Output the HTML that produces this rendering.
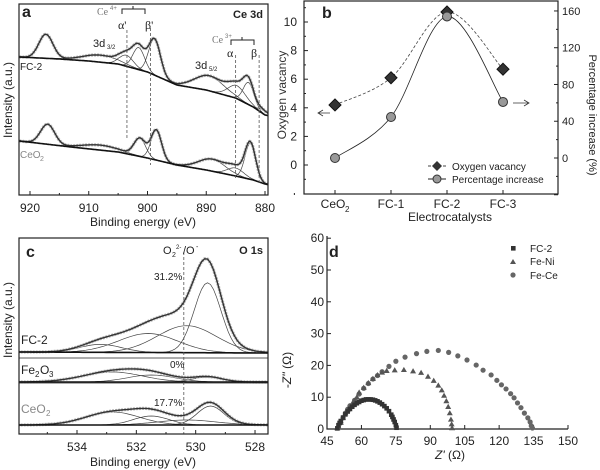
<!DOCTYPE html>
<html><head><meta charset="utf-8">
<style>
html,body{margin:0;padding:0;background:#fff;}
svg{display:block;font-family:"Liberation Sans",Arial,sans-serif;}
</style></head>
<body>
<svg id="fig" width="600" height="470" viewBox="0 0 600 470" xmlns="http://www.w3.org/2000/svg"></svg>
<script>
// ---------- Panel a data ----------
const aTicks = [920, 910, 900, 890, 880];
const aFCBaseE = [921.8, 915, 910, 905, 900, 895, 890, 885, 882, 880, 877.5];
const aFCBaseY = [57, 59, 61, 64, 72, 85, 90, 98, 107, 115, 118];
const aFCPeakC = [917.3, 908, 903.6, 901.5, 898.8, 889.5, 884.8, 882.8, 880.3];
const aFCPeakH = [24, 7, 11, 22, 36, 15, 13, 22, 4];
const aFCPeakW = [1.2, 3, 1.2, 1.0, 1.0, 2.5, 1.5, 0.9, 0.8];
const aCeBaseE = [921.8, 913, 905, 900, 895, 890, 885, 882, 880, 877.5];
const aCeBaseY = [141, 147, 152, 158, 165, 170, 176, 180, 184, 186];
const aCePeakC = [917, 908, 901.3, 898.5, 889, 885, 882.5];
const aCePeakH = [20, 5, 18, 30, 12, 8, 36];
const aCePeakW = [1.2, 3, 1.0, 0.9, 2.3, 1.4, 0.9];
// ---------- Panel b data ----------
const bCats = ["CeO2", "FC-1", "FC-2", "FC-3"];
const bVacancy = [4.2, 6.1, 10.7, 6.7];
const bPercent = [0, 44.6, 154, 61];
const bLeftTicks = [0, 2, 4, 6, 8, 10];
const bRightTicks = [0, 40, 80, 120, 160];
// ---------- Panel c data ----------
const cTicks = [534, 532, 530, 528];
const cFCBase = [352, 353];
const cFCPeakC = [533.2, 531.6, 530.3, 529.6];
const cFCPeakH = [8, 19, 27, 70];
const cFCPeakW = [0.7, 1.0, 1.0, 0.45];
const cFeBase = [382, 382];
const cFePeakC = [532.8, 531.5, 529.6];
const cFePeakH = [10, 7, 5];
const cFePeakW = [1.0, 0.8, 0.5];
const cCeBase = [425, 425];
const cCePeakC = [532.8, 531.5, 530.3, 529.5];
const cCePeakH = [13, 9, 5, 19];
const cCePeakW = [0.9, 0.6, 1.0, 0.45];
// ---------- Panel d data ----------
const dXTicks = [45, 60, 75, 90, 105, 120, 135, 150];
const dYTicks = [0, 10, 20, 30, 40, 50, 60];
const dFC2X = [49.5,50,50.5,51,52,53,54,55,56,57,58,59,60,61,62,63,64,65,66,67,68,69,70,71,72,73,73.5,74,74.5,75,75.3];
const dFC2Y = [0.2,1.2,1.9,2.5,3.6,4.6,5.5,6.3,7.0,7.6,8.1,8.5,8.9,9.1,9.3,9.3,9.3,9.2,9.0,8.7,8.3,7.8,7.2,6.5,5.6,4.5,3.8,3.0,2.2,1.2,0.4];
const dNiX = [49.5,51,52,53,54,55,56,57,58,59,61,63,65,67,69,71,74.5,78.5,82.5,86,89,91.5,93.5,95,96,97,97.8,98.5,99,99.3,99.5];
const dNiY = [0.3,2,3.5,5,6,7,8,9,10,11.5,13,14.5,15.8,17,17.8,18.3,18.5,18.6,18.2,17.7,16.5,15.2,13.7,12.2,10.5,8.8,7,5,3,1.5,0.3];
const dCeX = [50,51,52,53,54,55,57,59,61,63,65,67,69,72,75,79,84,88.5,93.5,98,102,106,110,113,116.5,119,121,123,125,126.5,128,129.5,131,132.5,133.5,134,134.5];
const dCeY = [0.5,2,3.5,5,6.2,7.3,9,11,12.8,14.3,15.7,16.8,18,19.7,21.3,22.6,23.7,24.4,24.7,24.1,23,21.7,20.1,18.5,17,15.3,13.9,12.6,11.1,9.8,8.2,6.7,5,3.5,2.2,1,0.3];

const NS = "http://www.w3.org/2000/svg";
const svg = document.getElementById("fig");
function mk(tag, attrs, parent) {
  const e = document.createElementNS(NS, tag);
  for (const k in attrs) e.setAttribute(k, attrs[k]);
  (parent || svg).appendChild(e);
  return e;
}
function txt(x, y, s, size, extra, parent) {
  const t = mk("text", Object.assign({x: x, y: y, "font-size": size, fill: "#222"}, extra || {}), parent);
  t.textContent = s;
  return t;
}
function interp(xs, ys, x) {
  for (let i = 0; i < xs.length - 1; i++) {
    const a = xs[i], b = xs[i + 1];
    if ((x <= a && x >= b) || (x >= a && x <= b)) {
      return ys[i] + (ys[i + 1] - ys[i]) * (x - a) / (b - a);
    }
  }
  return ys[ys.length - 1];
}
function gauss(e, c, h, w) { return h * Math.exp(-0.5 * ((e - c) / w) ** 2); }
function path(pts) { return pts.map((p, i) => (i ? "L" : "M") + p[0].toFixed(1) + "," + p[1].toFixed(1)).join(""); }
function spline(pts) {
  let d = "M" + pts[0][0] + "," + pts[0][1];
  for (let i = 0; i < pts.length - 1; i++) {
    const p0 = pts[Math.max(0, i - 1)], p1 = pts[i], p2 = pts[i + 1], p3 = pts[Math.min(pts.length - 1, i + 2)];
    const c1 = [p1[0] + (p2[0] - p0[0]) / 6, p1[1] + (p2[1] - p0[1]) / 6];
    const c2 = [p2[0] - (p3[0] - p1[0]) / 6, p2[1] - (p3[1] - p1[1]) / 6];
    d += "C" + c1[0].toFixed(1) + "," + c1[1].toFixed(1) + " " + c2[0].toFixed(1) + "," + c2[1].toFixed(1) + " " + p2[0].toFixed(1) + "," + p2[1].toFixed(1);
  }
  return d;
}

function spectrum(g, xOf, eMin, eMax, baseFn, C, H, W, name) {
  const step = 0.1;
  const env = [], base = [];
  for (let e = eMax; e >= eMin - 1e-9; e -= step) {
    const b = baseFn(e);
    let s = 0;
    for (let i = 0; i < C.length; i++) s += gauss(e, C[i], H[i], W[i]);
    env.push([xOf(e), b - s]);
    base.push([xOf(e), b]);
  }
  for (let i = 0; i < C.length; i++) {
    const comp = [];
    for (let e = eMax; e >= eMin - 1e-9; e -= step) {
      comp.push([xOf(e), baseFn(e) - gauss(e, C[i], H[i], W[i])]);
    }
    const p = mk("path", {d: path(comp), fill: "none", stroke: "#444", "stroke-width": 0.7}, g);
    
    
  }
  const pe = mk("path", {d: path(env), fill: "none", stroke: "#bbb", "stroke-width": 3.2, "stroke-dasharray": "2 1"}, g);
  
  
  const pf = mk("path", {d: path(env), fill: "none", stroke: "#333", "stroke-width": 1.4}, g);
  
  
  const pb = mk("path", {d: path(base), fill: "none", stroke: "#111", "stroke-width": 1.6}, g);
  
  
}

// ================= Panel a =================
(function () {
  const g = mk("g", {});
  
  
  const L = 19, R = 268, T = 4, B = 195;
  const xOf = e => 30 + (920 - e) * 5.875;
  const cp = mk("clipPath", {id: "clipA"}, g); mk("rect", {x: L, y: T, width: R - L, height: B - T}, cp);
  const inner = mk("g", {"clip-path": "url(#clipA)"}, g);
  spectrum(inner, xOf, 877.5, 921.8, e => interp(aFCBaseE, aFCBaseY, e), aFCPeakC, aFCPeakH, aFCPeakW, "fc2-ce3d");
  spectrum(inner, xOf, 877.5, 921.8, e => interp(aCeBaseE, aCeBaseY, e), aCePeakC, aCePeakH, aCePeakW, "ceo2-ce3d");
  [[903.5, 30, 140], [899.5, 28, 165], [885, 55, 180], [881, 55, 185]].forEach(v => {
    const l = mk("line", {x1: xOf(v[0]), x2: xOf(v[0]), y1: v[1], y2: v[2], stroke: "#555", "stroke-width": 0.8, "stroke-dasharray": "3 2"}, g);
    
    
  });
  const box = mk("rect", {x: L, y: T, width: R - L, height: B - T, fill: "none", stroke: "#222", "stroke-width": 1.2}, g);
   
  aTicks.forEach(t => {
    mk("line", {x1: xOf(t), x2: xOf(t), y1: B, y2: B - 4, stroke: "#222"}, g);
    mk("line", {x1: xOf(t - 5), x2: xOf(t - 5), y1: B, y2: B - 2, stroke: "#222"}, g);
    const tl = txt(xOf(t), 212, String(t), 12, {"text-anchor": "middle"}, g);
     
  });
  const xt = txt(143, 226, "Binding energy (eV)", 12, {"text-anchor": "middle"}, g);
   
  const yt = txt(0, 0, "Intensity (a.u.)", 12, {"text-anchor": "middle", transform: "translate(12,100) rotate(-90)"}, g);
   
  const lab = txt(22, 17, "a", 16, {"font-weight": "bold"}, g);  
  const ti = txt(263, 18, "Ce 3d", 11, {"font-weight": "bold", "text-anchor": "end"}, g);  
  txt(20, 70, "FC-2", 10, {}, g);
  txt(20, 158, "CeO", 10, {fill: "#888"}, g); txt(40, 161, "2", 7, {fill: "#888"}, g);
  txt(93, 47, "3d", 11, {}, g); txt(107, 49, "3/2", 6, {}, g);
  txt(195, 69, "3d", 11, {}, g); txt(209, 71, "5/2", 6, {}, g);
  txt(97, 15, "Ce", 10, {fill: "#777", "font-family": "Liberation Serif"}, g); txt(110, 10, "4+", 6, {fill: "#777"}, g);
  mk("path", {d: "M122,14V9H145V14M133,9V6", fill: "none", stroke: "#222"}, g);
  txt(118, 29, "α'", 12, {"font-family": "Liberation Serif"}, g);
  txt(145, 29, "β'", 12, {"font-family": "Liberation Serif"}, g);
  txt(212, 43, "Ce", 10, {fill: "#777", "font-family": "Liberation Serif"}, g); txt(225, 38, "3+", 6, {fill: "#777"}, g);
  mk("path", {d: "M231,45V40H254V45M242,40V37", fill: "none", stroke: "#222"}, g);
  txt(227, 57, "α", 12, {"font-family": "Liberation Serif"}, g);
  txt(251, 57, "β", 12, {"font-family": "Liberation Serif"}, g);
})();

// ================= Panel b =================
(function () {
  const g = mk("g", {});
  
  
  const L = 304, R = 558, T = 1, B = 194;
  const xOf = i => 335 + i * 56;
  const yL = v => 165 - v * 14.3;
  const yR = p => 158 - p * 0.919;
  const box = mk("rect", {x: L, y: T, width: R - L, height: B - T, fill: "none", stroke: "#222", "stroke-width": 1.2}, g);
   
  for (let v = -1; v <= 11; v++) mk("line", {x1: L, x2: L + (v % 2 === 0 ? 4 : 2), y1: yL(v), y2: yL(v), stroke: "#222"}, g);
  bLeftTicks.forEach(v => { const t = txt(L - 7, yL(v) + 4, String(v), 12, {"text-anchor": "end"}, g);   });
  for (let p = -40; p <= 160; p += 20) mk("line", {x1: R, x2: R - (p % 40 === 0 ? 4 : 2), y1: yR(p), y2: yR(p), stroke: "#222"}, g);
  bRightTicks.forEach(p => { const t = txt(R + 4, yR(p) + 4, String(p), 11, {}, g);   });
  bCats.forEach((c, i) => {
    mk("line", {x1: xOf(i), x2: xOf(i), y1: B, y2: B - 4, stroke: "#222"}, g);
    let t;
    if (c === "CeO2") { t = txt(xOf(i) - 2, 208, "CeO", 12, {"text-anchor": "middle"}, g); txt(xOf(i) + 10, 212, "2", 8, {}, g); }
    else t = txt(xOf(i), 208, c, 12, {"text-anchor": "middle"}, g);
     
  });
  const xt = txt(450, 221, "Electrocatalysts", 12, {"text-anchor": "middle"}, g);
   
  const yt = txt(0, 0, "Oxygen vacancy", 12, {"text-anchor": "middle", fill: "#333", transform: "translate(286,95) rotate(-90)"}, g);
   
  const yt2 = txt(0, 0, "Percentage increase (%)", 11, {"text-anchor": "middle", transform: "translate(589,115) rotate(90)"}, g);
   
  const vp = bVacancy.map((v, i) => [xOf(i), yL(v)]);
  const pp = bPercent.map((v, i) => [xOf(i), yR(v)]);
  const l1 = mk("path", {d: spline(vp), fill: "none", stroke: "#444", "stroke-width": 0.8, "stroke-dasharray": "3 2"}, g);
   
  const l2 = mk("path", {d: spline(pp), fill: "none", stroke: "#222", "stroke-width": 0.8}, g);
   
  vp.forEach(p => {
    const d = mk("path", {d: `M${p[0]},${p[1]-6}L${p[0]+6},${p[1]}L${p[0]},${p[1]+6}L${p[0]-6},${p[1]}Z`, fill: "#333", stroke: "#111"}, g);
     
  });
  pp.forEach(p => {
    const c = mk("circle", {cx: p[0], cy: p[1], r: 4.5, fill: "#999", stroke: "#333", "stroke-width": 1}, g);
     
  });
  mk("path", {d: "M330,113H319M323,110L318,113L323,116", fill: "none", stroke: "#333", "stroke-width": 0.8}, g);
  mk("path", {d: "M513,103H528M524,100L529,103L524,106", fill: "none", stroke: "#333", "stroke-width": 0.8}, g);
  mk("line", {x1: 428, x2: 446, y1: 166, y2: 166, stroke: "#444", "stroke-dasharray": "3 2"}, g);
  mk("path", {d: "M437,161L442,166L437,171L432,166Z", fill: "#333"}, g);
  const le1 = txt(452, 170, "Oxygen vacancy", 10, {}, g);  
  mk("line", {x1: 428, x2: 446, y1: 179, y2: 179, stroke: "#222"}, g);
  mk("circle", {cx: 437, cy: 179, r: 4, fill: "#999", stroke: "#333"}, g);
  const le2 = txt(452, 183, "Percentage increase", 10, {}, g);  
  const lab = txt(322, 18, "b", 16, {"font-weight": "bold"}, g);  
})();

// ================= Panel c =================
(function () {
  const g = mk("g", {});
  
  
  const L = 19, R = 268, T = 238, B = 434;
  const xOf = e => 77 + (534 - e) * 29.67;
  const cp = mk("clipPath", {id: "clipC"}, g); mk("rect", {x: L, y: T, width: R - L, height: B - T}, cp);
  const inner = mk("g", {"clip-path": "url(#clipC)"}, g);
  spectrum(inner, xOf, 527.5, 536, e => cFCBase[1] + (cFCBase[0] - cFCBase[1]) * (e - 527.5) / 8.5, cFCPeakC, cFCPeakH, cFCPeakW, "fc2-o1s");
  spectrum(inner, xOf, 527.5, 536, e => cFeBase[1] + (cFeBase[0] - cFeBase[1]) * (e - 527.5) / 8.5, cFePeakC, cFePeakH, cFePeakW, "fe2o3-o1s");
  spectrum(inner, xOf, 527.5, 536, e => cCeBase[1] + (cCeBase[0] - cCeBase[1]) * (e - 527.5) / 8.5, cCePeakC, cCePeakH, cCePeakW, "ceo2-o1s");
  mk("line", {x1: L, x2: R, y1: 358, y2: 358, stroke: "#222", "stroke-width": 0.8}, g);
  mk("line", {x1: L, x2: R, y1: 383, y2: 383, stroke: "#222", "stroke-width": 0.8}, g);
  const dl = mk("line", {x1: xOf(530.4), x2: xOf(530.4), y1: 252, y2: B, stroke: "#555", "stroke-width": 0.8, "stroke-dasharray": "3 2"}, g);
   
  const box = mk("rect", {x: L, y: T, width: R - L, height: B - T, fill: "none", stroke: "#222", "stroke-width": 1.2}, g);
   
  cTicks.forEach(t => {
    mk("line", {x1: xOf(t), x2: xOf(t), y1: B, y2: B - 4, stroke: "#222"}, g);
    mk("line", {x1: xOf(t + 1), x2: xOf(t + 1), y1: B, y2: B - 2, stroke: "#222"}, g);
    const tl = txt(xOf(t), 451, String(t), 12, {"text-anchor": "middle"}, g);
     
  });
  const xt = txt(143, 466, "Binding energy (eV)", 12, {"text-anchor": "middle"}, g);
   
  const yt = txt(0, 0, "Intensity (a.u.)", 12, {"text-anchor": "middle", transform: "translate(12,320) rotate(-90)"}, g);
   
  const lab = txt(26, 257, "c", 16, {"font-weight": "bold"}, g);  
  const ti = txt(263, 254, "O 1s", 11, {"font-weight": "bold", "text-anchor": "end"}, g);  
  txt(163, 254, "O", 11, {}, g); txt(172, 257, "2", 7, {}, g); txt(176, 249, "2-", 6, {}, g);
  txt(183, 254, "/O", 11, {}, g); txt(196, 249, "-", 7, {}, g);
  txt(21, 344, "FC-2", 12, {}, g);
  txt(21, 374, "Fe", 12, {}, g); txt(35, 377, "2", 8, {}, g); txt(40, 374, "O", 12, {}, g); txt(49, 377, "3", 8, {}, g);
  txt(21, 413, "CeO", 12, {fill: "#888"}, g); txt(46, 416, "2", 8, {fill: "#888"}, g);
  txt(154, 280, "31.2%", 10, {}, g);
  txt(170, 368, "0%", 10, {}, g);
  txt(154, 406, "17.7%", 10, {}, g);
})();

// ================= Panel d =================
(function () {
  const g = mk("g", {});
  
  
  const L = 327, R = 568, T = 236, B = 429;
  const xOf = v => L + (v - 45) * (R - L) / 105;
  const yOf = v => B - v * 3.18;
  mk("path", {d: `M${L},${T}V${B}H${R}`, fill: "none", stroke: "#222", "stroke-width": 1.2}, g);
  dXTicks.forEach(t => {
    mk("line", {x1: xOf(t), x2: xOf(t), y1: B, y2: B - 4, stroke: "#222"}, g);
    const tl = txt(xOf(t), 445, String(t), 12, {"text-anchor": "middle"}, g);
     
  });
  dYTicks.forEach(t => {
    mk("line", {x1: L, x2: L + 4, y1: yOf(t), y2: yOf(t), stroke: "#222"}, g);
    const tl = txt(L - 3, yOf(t) + 4, String(t), 12, {"text-anchor": "end"}, g);
     
  });
  const xt = txt(450, 459, "", 12, {"text-anchor": "middle"}, g);
  xt.innerHTML = '<tspan font-style="italic">Z\'</tspan> (Ω)';
   
  const yt = txt(0, 0, "", 12, {"text-anchor": "middle", transform: "translate(291,370) rotate(-90)"}, g);
  yt.innerHTML = '-<tspan font-style="italic">Z\'\'</tspan> (Ω)';
   
  dCeX.forEach((x, i) => {
    const c = mk("circle", {cx: xOf(x), cy: yOf(dCeY[i]), r: 2.6, fill: "#666"}, g);
     
  });
  dNiX.forEach((x, i) => {
    const cx = xOf(x), cy = yOf(dNiY[i]);
    const t = mk("path", {d: `M${cx},${cy-3}L${cx+3},${cy+2.2}L${cx-3},${cy+2.2}Z`, fill: "#555"}, g);
     
  });
  dFC2X.forEach((x, i) => {
    const r = mk("rect", {x: xOf(x) - 2.3, y: yOf(dFC2Y[i]) - 2.3, width: 4.6, height: 4.6, fill: "#333"}, g);
     
  });
  mk("rect", {x: 511, y: 246, width: 4.6, height: 4.6, fill: "#333"}, g);
  const l1 = txt(530, 252, "FC-2", 10, {}, g);  
  mk("path", {d: "M513,259L516,264L510,264Z", fill: "#555"}, g);
  const l2 = txt(530, 265, "Fe-Ni", 10, {}, g);  
  mk("circle", {cx: 513, cy: 275, r: 2.6, fill: "#666"}, g);
  const l3 = txt(530, 279, "Fe-Ce", 10, {}, g);  
  const lab = txt(329, 257, "d", 16, {"font-weight": "bold"}, g);  
})();
</script>
</body></html>
